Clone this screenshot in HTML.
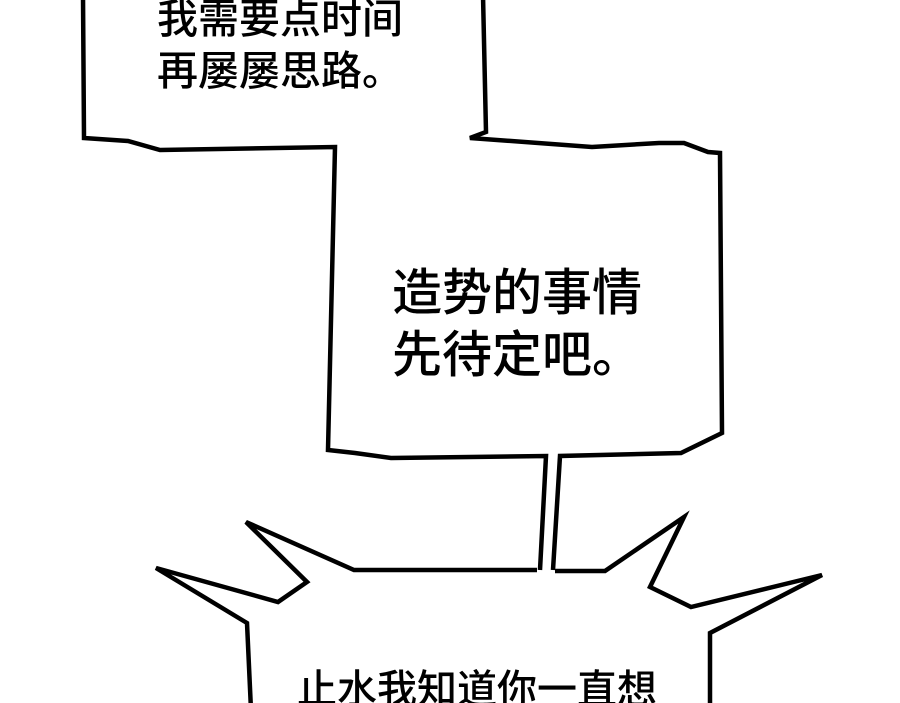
<!DOCTYPE html>
<html><head><meta charset="utf-8"><style>
html,body{margin:0;padding:0;background:#fff;width:900px;height:703px;overflow:hidden}
svg{display:block}
text{font-family:"Liberation Sans","Noto Sans CJK SC",sans-serif;fill:#000;font-weight:500}
</style></head><body>
<svg width="900" height="703" viewBox="0 0 900 703" xmlns="http://www.w3.org/2000/svg">
<g fill="none" stroke="#000" stroke-width="4.5" stroke-linejoin="miter">
<path d="M83,-5 L84,138 L128,141 L160,150 L335,147 L328,450 L355,453 L391,458 L546,456 L540,570"/>
<path d="M553,570 L560,456 L681,453 L722,433 L720,153 L708,152 L684,143 L659,143 L592,147 L470,138 L486,132 L483,-5"/>
<path d="M537,570 L354,570 L246,522 L307,582 L278,602 L156,568 L247,623 L251,710"/>
<path d="M555,571 L605,571 L684,517 L650,587 L691,607 L822,575 L710,633 L710,710"/>
</g>
<g font-size="41">
<text x="157" y="33">我需要点时间</text>
<text x="157" y="85">再屡屡思路。</text>
</g>
<g font-size="50">
<text x="392" y="310">造势的事情</text>
<text x="392" y="372">先待定吧。</text>
</g>
<g font-size="40">
<text x="297" y="703">止水我知道你一直想</text>
</g>
</svg>
</body></html>
